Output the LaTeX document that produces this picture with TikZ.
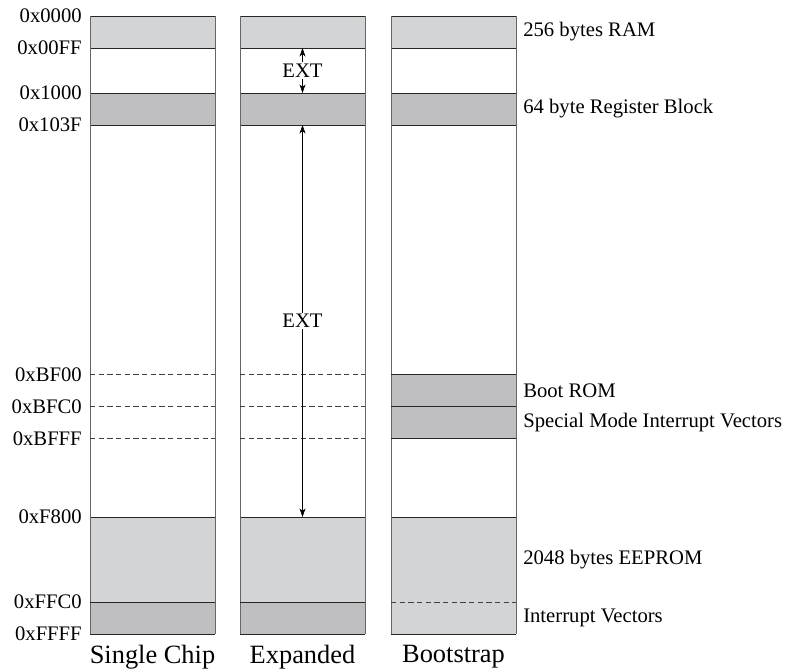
\documentclass[tikz,border=0pt]{standalone}
\usepackage{fontspec}
\setmainfont{Liberation Serif}
\usetikzlibrary{arrows.meta}
\definecolor{lightfill}{RGB}{211,212,214}
\definecolor{darkfill}{RGB}{191,191,193}

\begin{document}
\begin{tikzpicture}[x=0.75pt,y=-0.75pt,>={Stealth[length=6.5pt,width=4.5pt]}]
  \tikzstyle{addr}=[anchor=east, inner sep=0pt, font=\fontsize{15.5}{17}\selectfont]
  \tikzstyle{desc}=[anchor=west, inner sep=0pt, font=\fontsize{15.5}{17}\selectfont]
  \tikzstyle{mode}=[anchor=north, inner sep=0pt, font=\fontsize{19.8}{22}\selectfont]
  \tikzstyle{bound}=[draw=black!85, line width=0.65pt]
  \tikzstyle{side}=[draw=black!60, line width=0.75pt]
  \tikzstyle{sep}=[draw=black!75, line width=0.6pt, dash pattern=on 4pt off 2.5pt]

  \useasboundingbox (0,0) rectangle (791,671);

  % Fills common to all three maps
  \foreach \x in {90,240,391} {
    \fill[lightfill] (\x,16) rectangle ++(125,32);
    \fill[darkfill] (\x,93) rectangle ++(125,32);
    \fill[lightfill] (\x,517) rectangle ++(125,85);
  }
  \foreach \x in {90,240} \fill[darkfill] (\x,602) rectangle ++(125,32);
  \fill[lightfill] (391,602) rectangle ++(125,32);
  \fill[darkfill] (391,374.5) rectangle ++(125,64.5);

  % Boundaries
  \foreach \x in {90,240,391} {
    \foreach \y in {16,48,93,125,517,634}
      \draw[bound] (\x,\y) -- ++(125,0);
    \draw[side] (\x,16) -- (\x,634);
    \draw[side] (\x+125,16) -- (\x+125,634);
  }
  \foreach \x in {90,240} {
    \foreach \y in {374.5,406.5,438.5}
      \draw[sep] (\x,\y) -- ++(125,0);
    \draw[bound] (\x,602) -- ++(125,0);
  }
  \foreach \y in {374.5,406.5,438.5}
    \draw[bound] (391,\y) -- ++(125,0);
  \draw[sep] (391,602) -- ++(125,0);

  % Addresses
  \node[addr] (a0000) at (82,16) {0x0000};
  \node[addr] (a00ff) at (82,48) {0x00FF};
  \node[addr] (a1000) at (82,93) {0x1000};
  \node[addr] (a103f) at (82,125) {0x103F};
  \node[addr] (abf00) at (82,374.5) {0xBF00};
  \node[addr] (abfc0) at (82,406.5) {0xBFC0};
  \node[addr] (abfff) at (82,438.5) {0xBFFF};
  \node[addr] (af800) at (82,517) {0xF800};
  \node[addr] (affc0) at (82,602) {0xFFC0};
  \node[addr] (affff) at (82,634) {0xFFFF};

  % Descriptions
  \node[desc] (ram) at (523,32) {256 bytes RAM};
  \node[desc] (regs) at (523,109) {64 byte Register Block};
  \node[desc] (bootrom) at (523,390.5) {Boot ROM};
  \node[desc] (smvec) at (523,422.5) {Special Mode Interrupt Vectors};
  \node[desc] (eeprom) at (523,559.5) {2048 bytes EEPROM};
  \node[desc] (ivec) at (523,618) {Interrupt Vectors};

  % Mode names
  \node[mode] (single) at (152.5,645) {Single Chip};
  \node[mode] (expanded) at (302.5,645) {Expanded};
  \node[mode] (bootstrap) at (453.5,645) {Bootstrap};

  % External ranges in expanded mode
  \coordinate (ext1top) at (302.5,48);
  \coordinate (ext1bot) at (302.5,93);
  \coordinate (ext2top) at (302.5,125);
  \coordinate (ext2bot) at (302.5,517);
  \draw[<->, line width=0.5pt] (ext1top) -- node[fill=white, inner sep=1pt, font=\fontsize{15.5}{17}\selectfont] (ext1) {EXT} (ext1bot);
  \draw[<->, line width=0.5pt] (ext2top) -- node[fill=white, inner sep=1pt, font=\fontsize{15.5}{17}\selectfont] (ext2) {EXT} (ext2bot);
\end{tikzpicture}
\end{document}
